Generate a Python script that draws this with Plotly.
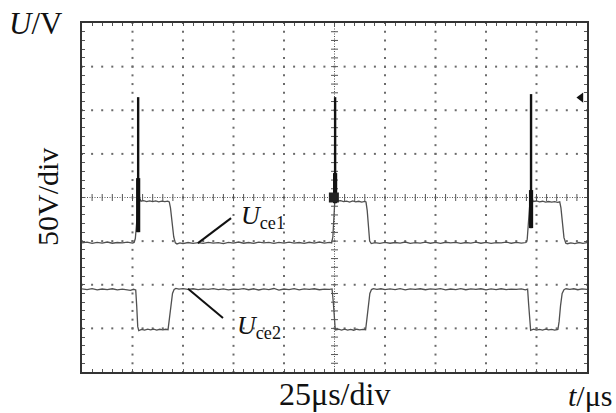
import plotly.graph_objects as go

# ---------------- data (time in us, voltage in V, 50 V/div, 25 us/div) ----------------
t_ce1 = [0, 2.5, 5, 7.5, 10, 12.5, 15, 17.5, 20, 22.5, 25, 25.8,
         26.4, 27.0, 27.5, 28.0, 28.6, 29.2,
         30.5, 32, 33.5, 35, 36.5, 38, 39.5, 41, 42.5, 43.2,
         43.8, 44.6, 45.4, 46.2, 47.0,
         48.5, 50, 52.5, 55, 57.5, 60, 62.5, 65, 67.5, 70, 72.5, 75, 77.5, 80, 82.5, 85,
         87.5, 90, 92.5, 95, 97.5, 100, 102.5, 105, 107.5, 110, 112.5, 115, 117.5, 120, 122.5, 123.6,
         124.2, 124.7, 125.1, 125.6, 126.5,
         128, 129.5, 131, 132.5, 134, 135.5, 137, 138.5, 140, 140.6,
         141.2, 141.8, 142.4, 143.2,
         145, 147.5, 150, 152.5, 155, 157.5, 160, 162.5, 165, 167.5, 170, 172.5, 175, 177.5,
         180, 182.5, 185, 187.5, 190, 192.5, 195, 197.5, 200, 202.5, 205, 207.5, 210, 212.5,
         215, 217.5, 219.8,
         220.4, 221.0, 221.6, 222.2, 222.8, 223.4,
         225, 226.5, 228, 229.5, 231, 232.5, 234, 235.5, 236.5,
         237.1, 237.8, 238.6, 239.5, 240.3,
         242, 244, 246, 248, 250]
u_ce1 = [-52.0, -51.2, -52.6, -51.5, -52.2, -51.0, -52.4, -51.6, -52.0, -51.1, -52.3, -51.5,
         -47, -30, -8, -3.5, -1.5, -4.2,
         -3.6, -4.6, -3.8, -4.8, -4.0, -4.9, -4.1, -4.8, -4.2, -5.0,
         -12, -30, -45, -52, -53.2,
         -52.0, -52.8, -51.6, -52.5, -51.8, -52.6, -51.4, -52.3, -51.7, -52.8, -51.5, -52.2, -51.0, -52.4, -51.6, -52.5,
         -51.2, -52.0, -51.4, -52.6, -51.5, -52.3, -51.1, -52.2, -51.6, -52.5, -51.3, -52.2, -51.0, -52.3, -51.5, -52.0,
         -45, -25, -6, -2.5, -4.0,
         -3.6, -4.8, -4.2, -5.2, -4.0, -5.0, -4.3, -5.2, -4.5, -5.2,
         -15, -35, -50, -52.8,
         -51.8, -52.6, -51.5, -52.4, -51.6, -52.2, -51.0, -52.5, -51.7, -52.3, -51.2, -52.4, -51.5, -52.6,
         -51.3, -52.0, -51.4, -52.5, -51.6, -52.2, -51.1, -52.4, -51.5, -52.6, -51.7, -52.0, -51.2, -52.4,
         -51.5, -52.3, -51.6,
         -48, -32, -10, -4, -1.0, -4.5,
         -4.0, -5.0, -4.3, -5.3, -4.6, -5.4, -4.7, -5.5, -5.0,
         -12, -30, -46, -52.5, -53.0,
         -52.0, -52.8, -51.6, -52.5, -51.8]

t_ce2 = [0, 2.5, 5, 7.5, 10, 12.5, 15, 17.5, 20, 22.5, 24, 25.5, 26.6,
         27.1, 27.6, 28.1,
         29.5, 31, 32.5, 34, 35.5, 37, 38.5, 40, 41.5, 42.6,
         43.2, 44.0, 44.8, 45.6, 46.5,
         48, 50, 52.5, 55, 57.5, 60, 62.5, 65, 67.5, 70, 72.5, 75, 77.5, 80, 82.5, 85, 87.5,
         90, 92.5, 95, 97.5, 100, 102.5, 105, 107.5, 110, 112.5, 115, 117.5, 120, 122.5, 123.8,
         124.4, 124.9, 125.4,
         127, 128.5, 130, 131.5, 133, 134.5, 136, 137.5, 139, 140.4,
         141.0, 141.7, 142.5, 143.3, 144.2,
         146, 148, 150, 152.5, 155, 157.5, 160, 162.5, 165, 167.5, 170, 172.5, 175, 177.5,
         180, 182.5, 185, 187.5, 190, 192.5, 195, 197.5, 200, 202.5, 205, 207.5, 210, 212.5,
         215, 217.5, 219.5, 220.6,
         221.1, 221.6, 222.1,
         223.5, 225, 226.5, 228, 229.5, 231, 232.5, 234, 235.6,
         236.2, 236.9, 237.7, 238.6, 239.6,
         241.5, 243.5, 245.5, 247.5, 250]
u_ce2 = [-104.8, -105.6, -104.5, -105.8, -104.9, -105.5, -104.6, -105.9, -105.0, -105.4, -106.5, -105.2, -106.0,
         -125, -148, -152.5,
         -151.2, -152.0, -150.8, -151.8, -150.9, -151.9, -151.0, -151.7, -151.0, -151.5,
         -140, -122, -110, -105.5, -104.2,
         -105.0, -104.5, -105.4, -104.6, -105.6, -104.8, -105.3, -104.4, -105.5, -104.7, -105.8, -104.9, -105.4, -104.5, -105.7, -104.6, -106.0,
         -104.8, -105.5, -104.3, -106.2, -104.9, -105.6, -104.4, -105.8, -104.7, -105.3, -104.6, -105.7, -104.9, -105.4, -104.8,
         -120, -143, -151.8,
         -151.0, -152.0, -150.9, -151.9, -151.1, -152.1, -151.0, -151.8, -151.2, -151.6,
         -140, -122, -110, -105.5, -104.5,
         -105.3, -104.6, -105.6, -104.8, -105.5, -104.5, -105.9, -104.7, -105.4, -104.6, -105.7, -104.8, -105.4, -104.4,
         -105.8, -104.9, -105.6, -104.5, -105.7, -104.8, -105.3, -104.6, -105.8, -104.7, -105.5, -104.6, -105.6, -104.9,
         -105.4, -104.7, -105.8, -105.0,
         -122, -145, -152.2,
         -151.0, -152.0, -151.1, -151.9, -150.9, -151.8, -151.2, -151.9, -151.3,
         -142, -124, -110, -105.6, -104.6,
         -105.4, -104.6, -105.7, -104.8, -105.3]

# switching spikes on Uce1
spike_t = [27.8, 125.3, 222.3]
spike_top = [115.0, 115.0, 118.5]
spike_bottom = [-39.7, -6.5, -35.1]
spike_thick_top = [22.2, 28.0, 8.5]
spike_box_t = [124.7]
spike_box_u = [0.0]

trigger_t = [247.0]
trigger_u = [114.5]

# label leader lines (t, U)
lead1_t = [57.4, 73.8]
lead1_u = [-52.3, -23.6]
lead2_t = [52.5, 69.8]
lead2_u = [-104.5, -138.2]

X_RANGE = [0, 250]
Y_RANGE = [-200, 200]
X_DIV = 25
Y_DIV = 50
SUB = 5  # sub-divisions per division

FONT = "Liberation Serif"
TRACE = "#505050"
GRID = "#6a6a6a"

fig = go.Figure()

# ---------------- graticule dots ----------------
gx, gy = [], []
for i in range(1, 10):
    xv = X_RANGE[0] + i * X_DIV
    if i == 5:
        continue
    for k in range(0, 8 * SUB + 1):
        gx.append(xv)
        gy.append(Y_RANGE[0] + k * Y_DIV / SUB)
for j in range(1, 8):
    yv = Y_RANGE[0] + j * Y_DIV
    if j == 4:
        continue
    for k in range(0, 10 * SUB + 1):
        gx.append(X_RANGE[0] + k * X_DIV / SUB)
        gy.append(yv)
fig.add_trace(go.Scatter(x=gx, y=gy, mode="markers",
                         marker=dict(symbol="square", size=2, color=GRID, line=dict(width=0)),
                         hoverinfo="skip", showlegend=False))

# center cross lines (dense dotted) with ticks
xc = (X_RANGE[0] + X_RANGE[1]) / 2
yc = (Y_RANGE[0] + Y_RANGE[1]) / 2
fig.add_trace(go.Scatter(x=X_RANGE, y=[yc, yc], mode="lines",
                         line=dict(color="#555", width=1, dash="1px,1.5px"),
                         hoverinfo="skip", showlegend=False))
fig.add_trace(go.Scatter(x=[xc, xc], y=Y_RANGE, mode="lines",
                         line=dict(color="#555", width=1, dash="1px,1.5px"),
                         hoverinfo="skip", showlegend=False))
tx = [X_RANGE[0] + k * X_DIV / SUB for k in range(1, 10 * SUB)]
fig.add_trace(go.Scatter(x=tx, y=[yc] * len(tx), mode="markers",
                         marker=dict(symbol="line-ns", size=5, line=dict(width=1, color="#555")),
                         hoverinfo="skip", showlegend=False))
ty = [Y_RANGE[0] + k * Y_DIV / SUB for k in range(1, 8 * SUB)]
fig.add_trace(go.Scatter(x=[xc] * len(ty), y=ty, mode="markers",
                         marker=dict(symbol="line-ew", size=5, line=dict(width=1, color="#555")),
                         hoverinfo="skip", showlegend=False))

# ---------------- waveforms ----------------
fig.add_trace(go.Scatter(x=t_ce1, y=u_ce1, mode="lines", line=dict(color=TRACE, width=1.3),
                         showlegend=False))
fig.add_trace(go.Scatter(x=t_ce2, y=u_ce2, mode="lines", line=dict(color=TRACE, width=1.3),
                         showlegend=False))

# spikes
for t, top, bot, thick in zip(spike_t, spike_top, spike_bottom, spike_thick_top):
    fig.add_trace(go.Scatter(x=[t, t], y=[bot, top], mode="lines",
                             line=dict(color="#111", width=2.4), showlegend=False))
    fig.add_trace(go.Scatter(x=[t, t], y=[bot, thick], mode="lines",
                             line=dict(color="#111", width=4.2), showlegend=False))
fig.add_trace(go.Scatter(x=spike_box_t, y=spike_box_u, mode="markers",
                         marker=dict(symbol="square", size=10, color="#222"), showlegend=False))

# trigger marker
fig.add_trace(go.Scatter(x=trigger_t, y=trigger_u, mode="markers",
                         marker=dict(symbol="triangle-left", size=9, color="#111"), showlegend=False))

# leader lines
fig.add_trace(go.Scatter(x=lead1_t, y=lead1_u, mode="lines", line=dict(color="#111", width=2),
                         showlegend=False))
fig.add_trace(go.Scatter(x=lead2_t, y=lead2_u, mode="lines", line=dict(color="#111", width=2),
                         showlegend=False))

# ---------------- layout ----------------
L, R, T, B = 82, 29, 23, 41
W, H = 616, 413
PW, PH = W - L - R, H - T - B


def px_x(px):
    return (px - L) / PW


def px_y(py):
    return (H - B - py) / PH


ann = []
ann.append(dict(text="<i>U</i>/V", x=px_x(7), y=px_y(23), xanchor="left", yanchor="middle",
                font=dict(family=FONT, size=31, color="#111")))
ann.append(dict(text="50V/div", x=px_x(47), y=px_y(197), xanchor="center", yanchor="middle",
                textangle=-90, font=dict(family=FONT, size=30, color="#111")))
ann.append(dict(text="25μs/div", x=px_x(334), y=px_y(394), xanchor="center", yanchor="middle",
                font=dict(family=FONT, size=32, color="#111")))
ann.append(dict(text="<i>t</i>/μs", x=px_x(614), y=px_y(395), xanchor="right", yanchor="middle",
                font=dict(family=FONT, size=30, color="#111")))
ann.append(dict(text="<i>U</i><sub>ce1</sub>", x=px_x(239), y=px_y(217), xanchor="left", yanchor="middle",
                font=dict(family=FONT, size=26, color="#111")))
ann.append(dict(text="<i>U</i><sub>ce2</sub>", x=px_x(235), y=px_y(327), xanchor="left", yanchor="middle",
                font=dict(family=FONT, size=26, color="#111")))
for a in ann:
    a.update(xref="paper", yref="paper", showarrow=False)

axis_common = dict(showline=True, linecolor="#333", linewidth=1.5, mirror="allticks",
                   ticks="inside", ticklen=3, tickcolor="#555", tickwidth=1,
                   showticklabels=False, showgrid=False, zeroline=False, fixedrange=True)

fig.update_layout(
    width=W, height=H, margin=dict(l=L, r=R, t=T, b=B),
    paper_bgcolor="white", plot_bgcolor="white",
    xaxis=dict(range=X_RANGE, dtick=X_DIV, tick0=0,
               minor=dict(ticks="inside", ticklen=3, dtick=X_DIV / SUB, tickcolor="#555", showgrid=False),
               **axis_common),
    yaxis=dict(range=Y_RANGE, dtick=Y_DIV, tick0=0,
               minor=dict(ticks="inside", ticklen=3, dtick=Y_DIV / SUB, tickcolor="#555", showgrid=False),
               **axis_common),
    annotations=ann,
    showlegend=False,
)

fig.write_html("out.html", config={"displayModeBar": False},
               post_script="document.body.style.margin='0';")
